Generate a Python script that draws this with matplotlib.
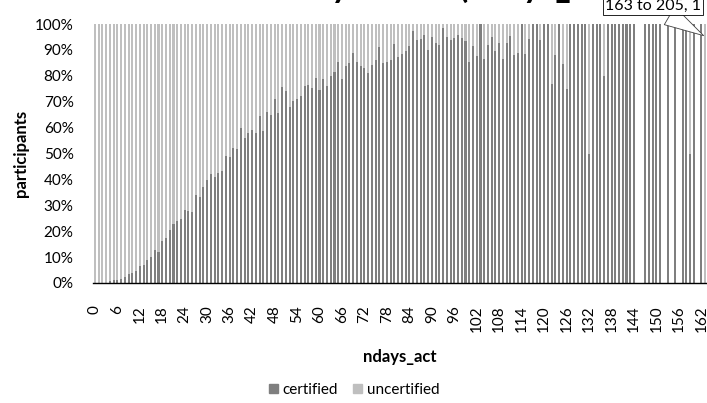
import numpy as np
import matplotlib
matplotlib.use('Agg')
import matplotlib.pyplot as plt
from matplotlib.patches import Patch

plt.rcParams['font.family'] = ['Lato', 'DejaVu Sans']

# ndays_act categories 0..162 plus the last bin "163 to 205"
days = list(range(164))
tick_labels = [str(d) for d in days]

# share of participants that got certified, % (None = no participants that day)
certified_pct = [
    0, 0, 0, 0, 0.6, 1.0, 1.3, 1.7, 2.3, 3.4,
    3.9, 4.6, 6.6, 7.1, 8.8, 10.0, 12.9, 11.9, 16.2, 17.5,
    20.4, 22.7, 24.0, 24.7, 28.1, 27.8, 27.3, 33.9, 33.1, 36.9,
    39.7, 42.0, 41.0, 42.3, 43.2, 49.1, 48.5, 52.1, 51.7, 59.9,
    55.9, 57.9, 59.0, 57.9, 64.4, 58.6, 66.1, 64.7, 71.1, 65.6,
    75.5, 74.2, 68.0, 70.4, 71.1, 72.3, 76.0, 76.4, 75.1, 79.1,
    74.7, 78.6, 76.0, 80.0, 81.6, 85.2, 78.6, 83.8, 84.8, 88.9,
    85.4, 83.8, 83.2, 81.2, 84.1, 86.1, 91.1, 85.0, 85.3, 86.1,
    92.3, 87.1, 88.4, 89.6, 91.6, 97.3, 93.8, 94.1, 95.7, 89.9,
    95.1, 92.8, 91.9, 98.6, 94.8, 93.8, 94.5, 95.9, 94.5, 93.4,
    85.4, 91.5, 87.8, 100, 86.5, 91.9, 95.0, 89.6, 92.5, 86.5,
    92.8, 95.4, 88.2, 88.8, 100, 88.6, 94.3, 100, 100, 93.9,
    100, 100, 77.0, 88.2, 100, 84.7, 74.9, 100, 100, 100,
    100, 100, 50, 100, 100, 100, 80, 100, 100, 100,
    100, 100, 100, 100, 100, None, None, 100, 100, 100,
    100, 100, None, 100, None, 100, None, 100, 100, 50,
    100, None, 100, 0,
]

cert = np.array([np.nan if v is None else v for v in certified_pct], dtype=float)
uncert = 100 - cert

fig = plt.figure(figsize=(7.07, 4.03), dpi=100)
ax = fig.add_axes([93 / 707, 1 - 283 / 403, 614 / 707, 259 / 403])

ax.bar(days, cert, width=0.55, color='#7f7f7f', linewidth=0)
ax.bar(days, uncert, bottom=cert, width=0.55, color='#bfbfbf', linewidth=0)

ax.set_xlim(-0.5, 163.5)
ax.set_ylim(0, 100)
ax.set_yticks(range(0, 101, 10))
ax.set_yticklabels([f'{v}%' for v in range(0, 101, 10)], fontsize=11)
ax.set_xticks(days[::6])
ax.set_xticklabels(tick_labels[::6], rotation=90, fontsize=11)
ax.tick_params(axis='y', length=0, pad=14)
ax.tick_params(axis='x', length=0, pad=16)

for s in ['top', 'right', 'left']:
    ax.spines[s].set_visible(False)
ax.spines['bottom'].set_color('black')
ax.spines['bottom'].set_linewidth(1.0)

ax.set_xlabel('ndays_act', fontsize=12, fontweight='bold', labelpad=12)
ax.set_ylabel('participants', fontsize=12, fontweight='bold', labelpad=4)

# title sits mostly above the canvas, only descenders show
fig.text(400 / 707, 1 + 2.5 / 403, 'Certified by Status (ndays_act)', ha='center',
         va='baseline', fontsize=24, fontweight='bold', zorder=-1)

ax.annotate('163 to 205, 1', xy=(162.6, 95.5), xytext=(653, 403 - 10),
            textcoords='figure pixels', ha='center', va='baseline', fontsize=11.5,
            bbox=dict(boxstyle='square,pad=0.15', fc='white', ec='black', lw=0.6),
            arrowprops=dict(arrowstyle='wedge,tail_width=1.3', fc='white', ec='#404040',
                            lw=0.6, shrinkA=0, shrinkB=0),
            annotation_clip=False)

handles = [Patch(color='#7f7f7f', label='certified'),
           Patch(color='#bfbfbf', label='uncertified')]
fig.legend(handles=handles, loc='center', bbox_to_anchor=(354 / 707, 1 - 390 / 403),
           ncol=2, frameon=False, fontsize=11, handlelength=0.6, handleheight=0.6,
           handletextpad=0.3, columnspacing=1.0)

fig.savefig('out.png', dpi=100)
